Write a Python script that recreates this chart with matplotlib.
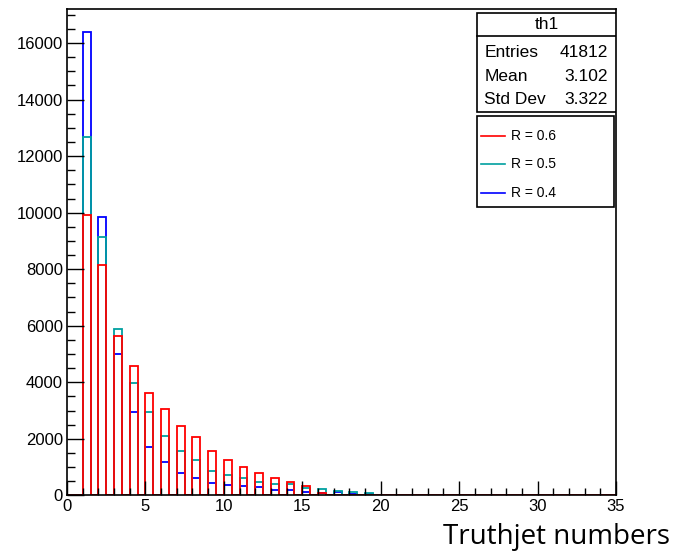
import numpy as np
import matplotlib
matplotlib.use("Agg")
import matplotlib.pyplot as plt
from matplotlib.patches import Rectangle
from matplotlib.lines import Line2D
from matplotlib.ticker import MultipleLocator

# Truth-jet multiplicity (1..22) for three jet radii
njets = list(range(1, 23))
counts_r06 = [9900, 8130, 5650, 4580, 3630, 3070, 2460, 2050, 1580, 1250, 990,
              780, 625, 470, 320, 75, 15, 10, 5, 0, 0, 0]
counts_r05 = [12660, 9150, 5880, 3975, 2950, 2110, 1580, 1240, 870, 710, 600,
              480, 410, 389, 245, 223, 160, 110, 72, 20, 8, 3]
counts_r04 = [16375, 9860, 5000, 2940, 1700, 1170, 800, 600, 425, 375, 320,
              283, 198, 177, 117, 65, 110, 60, 38, 12, 8, 3]

series = [("R = 0.4", counts_r04, "#0000ff"),
          ("R = 0.5", counts_r05, "#00a0a0"),
          ("R = 0.6", counts_r06, "#ff0000")]
legend_order = ["R = 0.6", "R = 0.5", "R = 0.4"]

stats_title = "th1"
stats_rows = [("Entries", "41812"), ("Mean", "3.102"), ("Std Dev", "3.322")]

# 70 bins of width 0.5 on [0, 35]
x_min, x_max, n_bins = 0.0, 35.0, 70
edges = np.linspace(x_min, x_max, n_bins + 1)


def binned(values):
    h = np.zeros(n_bins)
    for n, v in zip(njets, values):
        h[np.searchsorted(edges, n, side="right") - 1] = v
    return h


narrow = ["Liberation Sans Narrow", "Liberation Sans", "DejaVu Sans"]
plt.rcParams["font.family"] = narrow

fig = plt.figure(figsize=(6.74, 5.51), dpi=100)
ax = fig.add_axes([67 / 674, 1 - 495.3 / 551, 549 / 674, 486 / 551])

colors = {}
ymax = 0
for label, vals, col in series:
    ax.stairs(binned(vals), edges, color=col, lw=1.3, baseline=0)
    colors[label] = col
    ymax = max(ymax, max(vals))

ax.set_xlim(x_min, x_max)
ax.set_ylim(0, 1.05 * ymax)

ax.xaxis.set_major_locator(MultipleLocator(5))
ax.xaxis.set_minor_locator(MultipleLocator(1))
ax.yaxis.set_major_locator(MultipleLocator(2000))
ax.yaxis.set_minor_locator(MultipleLocator(500))
ax.tick_params(axis="x", which="major", direction="in", length=10, width=1,
               labelsize=12, pad=3)
ax.tick_params(axis="x", which="minor", direction="in", length=5, width=1)
ax.tick_params(axis="y", which="major", direction="in", length=12, width=1,
               labelsize=12, pad=3)
ax.tick_params(axis="y", which="minor", direction="in", length=6, width=1)
ax.tick_params(top=False, right=False, which="both")
for sp in ax.spines.values():
    sp.set_linewidth(1.2)

# Statistics box
tr = ax.transAxes
x0, x1 = 0.747, 0.9995
ax.add_patch(Rectangle((x0, 0.789), x1 - x0, 0.992 - 0.789, transform=tr,
                       facecolor="white", edgecolor="black", lw=1.2, zorder=5))
ax.add_line(Line2D([x0, x1], [0.945, 0.945], transform=tr, color="black",
                   lw=1.2, zorder=6))
ax.text((x0 + x1) / 2, 0.968, stats_title, transform=tr, ha="center",
        va="center", fontsize=12.5, zorder=7)
for (name, val), yy in zip(stats_rows, [0.912, 0.862, 0.815]):
    ax.text(0.760, yy, name, transform=tr, ha="left", va="center",
            fontsize=12.5, zorder=7)
    ax.text(0.985, yy, val, transform=tr, ha="right", va="center",
            fontsize=12.5, zorder=7)

# Legend box
ax.add_patch(Rectangle((0.747, 0.594), 0.996 - 0.747, 0.780 - 0.594,
                       transform=tr, facecolor="white", edgecolor="black",
                       lw=1.2, zorder=5))
for label, yy in zip(legend_order, [0.739, 0.682, 0.623]):
    ax.add_line(Line2D([0.755, 0.798], [yy, yy], transform=tr,
                       color=colors[label], lw=1.2, zorder=6))
    ax.text(0.808, yy, label, transform=tr, ha="left", va="center",
            fontsize=10, zorder=7)

fig.text(670 / 674, 0.012, "Truthjet numbers", ha="right", va="baseline",
         fontsize=20, family=["Open Sans", "DejaVu Sans"])

fig.savefig("out.png", dpi=100)
